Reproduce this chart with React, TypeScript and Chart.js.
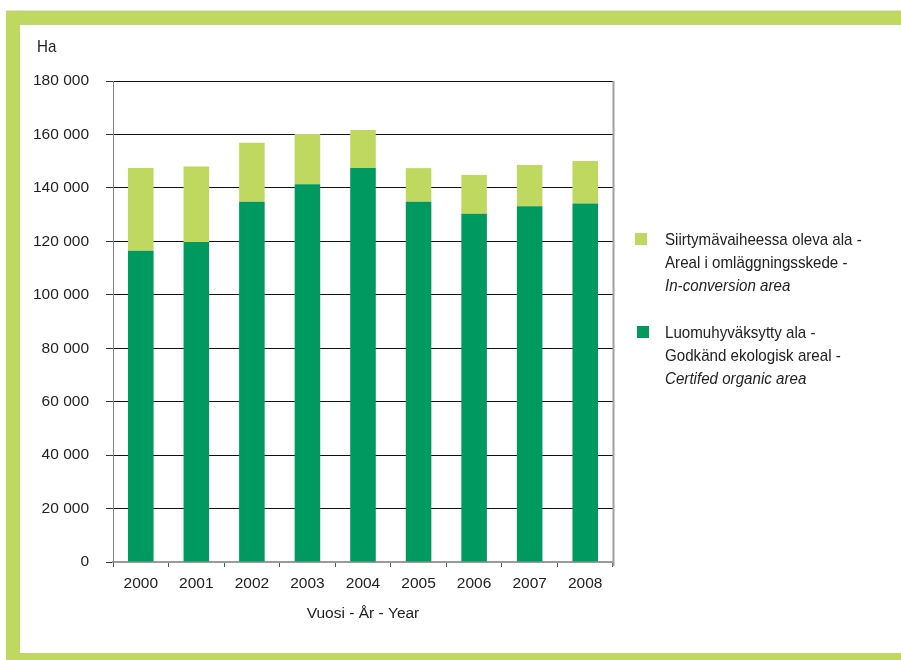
import React, { useEffect, useRef } from "react";
import { Chart, registerables } from "chart.js";

Chart.register(...registerables);

const years = ["2000", "2001", "2002", "2003", "2004", "2005", "2006", "2007", "2008"];
const certified = [116500, 119750, 134800, 141400, 147400, 134800, 130300, 133100, 134200];
const inConversion = [30900, 28250, 22050, 18800, 14300, 12600, 14500, 15500, 15900];
const yMin = 0;
const yMax = 180000;
const yStep = 20000;
const yUnit = "Ha";
const xTitle = "Vuosi - År - Year";
const legendConversion = ["Siirtymävaiheessa oleva ala -", "Areal i omläggningsskede -", "In-conversion area"];
const legendCertified = ["Luomuhyväksytty ala -", "Godkänd ekologisk areal -", "Certifed organic area"];

const DARK = "#00995f";
const LIGHT = "#bfd960";
const FRAME = "#bfd960";
const FONT = "'Liberation Sans Narrow', 'Liberation Sans', Arial, sans-serif";
const AXIS_SIZE = 15.5;

const fmt = (v: number) => String(v).replace(/\B(?=(\d{3})+(?!\d))/g, " ");

const extrasPlugin = {
  id: "extras",
  afterDraw(chart: any) {
    const ctx = chart.ctx as CanvasRenderingContext2D;
    const { chartArea } = chart;
    ctx.save();
    // right border of plot
    ctx.strokeStyle = "#a0a0a4";
    ctx.lineWidth = 2;
    ctx.beginPath();
    ctx.moveTo(chartArea.right + 0.5, chartArea.top);
    ctx.lineTo(chartArea.right + 0.5, chartArea.bottom + 4);
    ctx.stroke();
    const sx = 0.89;
    const text = (t: string, x: number, y: number, font: string) => {
      ctx.save();
      ctx.font = font;
      ctx.translate(x, y);
      ctx.scale(sx, 1);
      ctx.fillText(t, 0, 0);
      ctx.restore();
    };
    // unit label
    ctx.fillStyle = "#222";
    ctx.textBaseline = "middle";
    ctx.textAlign = "left";
    text(yUnit, 37, 47, `17px ${FONT}`);
    // legend
    const items = [
      { lines: legendConversion, color: chart.data.datasets[1].backgroundColor, box: [635, 233], y: 240 },
      { lines: legendCertified, color: chart.data.datasets[0].backgroundColor, box: [637, 326], y: 333 },
    ];
    for (const it of items) {
      ctx.fillStyle = it.color;
      ctx.fillRect(it.box[0], it.box[1], 12, 12);
      ctx.fillStyle = "#222";
      it.lines.forEach((t: string, i: number) => {
        text(t, 665, it.y + i * 23, i === 2 ? `italic 17px ${FONT}` : `17px ${FONT}`);
      });
    }
    ctx.restore();
  },
};

export default function App() {
  const ref = useRef<HTMLCanvasElement>(null);
  useEffect(() => {
    const chart = new Chart(ref.current!, {
      type: "bar",
      data: {
        labels: years,
        datasets: [
          { label: legendCertified.join(" "), data: certified, backgroundColor: DARK, borderWidth: 0 },
          { label: legendConversion.join(" "), data: inConversion, backgroundColor: LIGHT, borderWidth: 0 },
        ],
      },
      options: {
        responsive: false,
        animation: false,
        devicePixelRatio: 1,
        layout: { padding: { left: 0, right: 288, top: 81, bottom: 0 } },
        datasets: { bar: { barPercentage: 0.46, categoryPercentage: 1 } },
        plugins: { legend: { display: false }, tooltip: { enabled: false } },
        scales: {
          x: {
            stacked: true,
            afterFit: (s: any) => { s.height = 98; },
            grid: { drawOnChartArea: false, offset: true, tickLength: 5, color: "#555", tickColor: "#555" },
            border: { color: "#9a9a9a", width: 2 },
            ticks: { color: "#222", font: { family: FONT, size: AXIS_SIZE }, padding: 7, maxRotation: 0 },
            title: { display: true, text: xTitle, color: "#222", font: { family: FONT, size: AXIS_SIZE }, padding: { top: 0, bottom: 37 } },
          },
          y: {
            stacked: true,
            min: yMin,
            max: yMax,
            afterFit: (s: any) => { s.width = 113; },
            ticks: { stepSize: yStep, color: "#222", font: { family: FONT, size: AXIS_SIZE }, padding: 17, callback: (v: any) => fmt(Number(v)) },
            grid: {
              tickLength: 7,
              color: (c: any) => (c.tick && c.tick.value === 0 ? "rgba(0,0,0,0)" : "#111"),
              tickColor: "#333",
            },
            border: { color: "#808080", width: 1 },
          },
        },
      },
      plugins: [extrasPlugin],
    });
    return () => chart.destroy();
  }, []);

  return (
    <div style={{ position: "fixed", left: 0, top: 0, width: 901, height: 660, background: "#fff", overflow: "hidden" }}>
      <div style={{ position: "absolute", left: 6, top: 10, width: 895, height: 1, background: "#e2e2e2" }} />
      <div style={{ position: "absolute", left: 6, top: 11, width: 895, height: 14, background: FRAME }} />
      <div style={{ position: "absolute", left: 6, top: 11, width: 14, height: 649, background: FRAME }} />
      <div style={{ position: "absolute", left: 6, top: 653, width: 895, height: 7, background: FRAME }} />
      <canvas ref={ref} width={901} height={660} style={{ position: "absolute", left: 0, top: 0, width: 901, height: 660 }} />
    </div>
  );
}
